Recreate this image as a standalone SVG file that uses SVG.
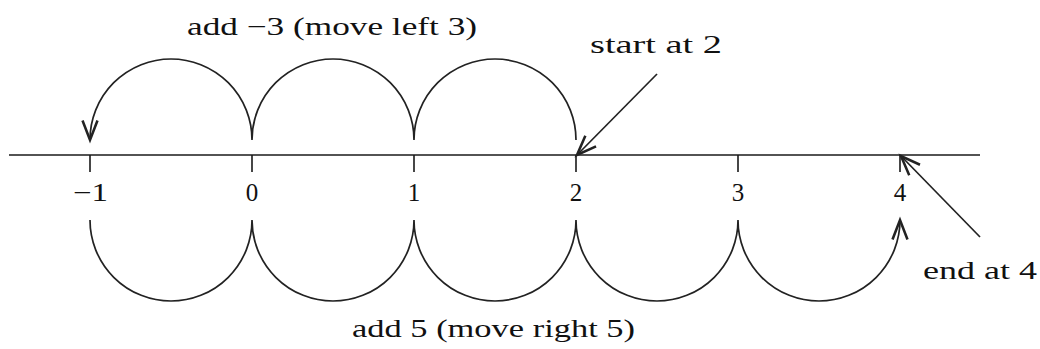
<svg xmlns="http://www.w3.org/2000/svg" width="1040" height="349" viewBox="0 0 1040 349">
<style>
.ln{stroke:#1a1a1a;stroke-width:1.6;fill:none}
.arc{stroke:#222;stroke-width:1.7;fill:none}
text{font-family:"Liberation Serif","DejaVu Serif",serif;fill:#111;font-size:25px}
.t{text-anchor:middle}
</style>
<defs>
<marker id="ah" markerUnits="userSpaceOnUse" markerWidth="30" markerHeight="30" refX="0" refY="0" viewBox="-16 -10 20 20" orient="auto" overflow="visible">
<path d="M-13,-5 L0,0 L-13,5" fill="none" stroke="#222" stroke-width="1.7"/>
</marker>
</defs>
<g id="number-line">
<line class="ln" x1="9" y1="155" x2="980" y2="155"/>
<path class="ln" d="M90,155V172M252,155V172M414,155V172M576,155V172M738,155V172M900,155V172"/>
</g>
<g id="tick-labels">
<text x="73" y="201" textLength="35" lengthAdjust="spacingAndGlyphs">−1</text>
<text class="t" x="252" y="201">0</text>
<text class="t" x="414" y="201">1</text>
<text class="t" x="576" y="201">2</text>
<text class="t" x="738" y="201">3</text>
<text class="t" x="900" y="201">4</text>
</g>
<g id="connectors">
<path id="left-jumps" class="arc" d="M576,140 A81,81 0 0 0 414,140 A81,81 0 0 0 252,140 A81,81 0 0 0 90,140" marker-end="url(#ah)"/>
<path id="right-jumps" class="arc" d="M90,220 A81,81 0 0 0 252,220 A81,81 0 0 0 414,220 A81,81 0 0 0 576,220 A81,81 0 0 0 738,220 A81,81 0 0 0 900,220" marker-end="url(#ah)"/>
<line id="start-pointer" class="arc" x1="657" y1="74" x2="577" y2="155" marker-end="url(#ah)"/>
<line id="end-pointer" class="arc" x1="980" y1="237" x2="901" y2="156" marker-end="url(#ah)"/>
</g>
<g id="label-top"><text x="187" y="35" textLength="290" lengthAdjust="spacingAndGlyphs">add −3 (move left 3)</text></g>
<g id="label-start"><text x="590" y="53" textLength="132" lengthAdjust="spacingAndGlyphs">start at 2</text></g>
<g id="label-end"><text x="923" y="279" textLength="114" lengthAdjust="spacingAndGlyphs">end at 4</text></g>
<g id="label-bottom"><text x="352" y="337" textLength="283" lengthAdjust="spacingAndGlyphs">add 5 (move right 5)</text></g>
</svg>
